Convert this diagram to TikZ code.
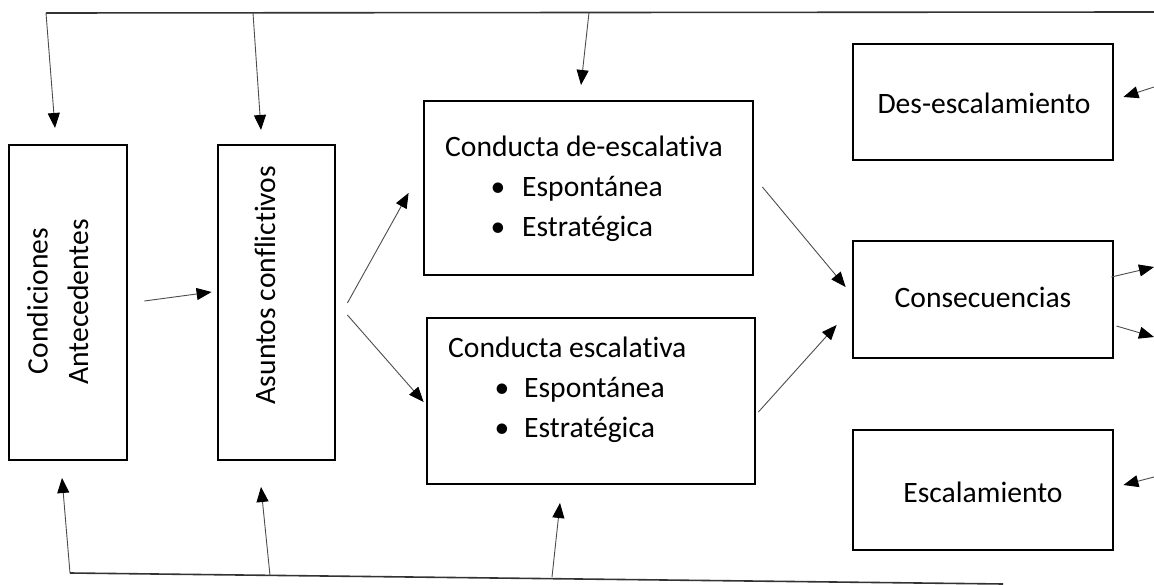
\documentclass[tikz,border=0pt]{standalone}
\usepackage{fontspec}
\setmainfont{Carlito}[Ligatures=NoCommon]
\usetikzlibrary{arrows.meta,calc}
\tikzset{
  box/.style={draw=black, line width=2.8pt, inner sep=0pt},
  lbl/.style={font=\fontsize{29.6}{40.6}\selectfont, inner sep=0pt},
  arr/.style={draw=black!70, line width=0.9pt, -{Triangle[length=15pt,width=12pt,color=black]}},
  feed/.style={draw=black!80, line width=1.6pt},
}
\begin{document}
\begin{tikzpicture}[x=1pt,y=-1pt]
\useasboundingbox (0,0) rectangle (1154,585);

% boxes
\node[box, minimum width=118, minimum height=315] (cond) at (68,302.5) {};
\node[box, minimum width=117, minimum height=315] (asun) at (276.5,302.5) {};
\node[box, minimum width=329, minimum height=174] (cde) at (588.5,188) {};
\node[box, minimum width=328, minimum height=166] (ces) at (591,401) {};
\node[box, minimum width=260, minimum height=116] (des) at (983,102) {};
\node[box, minimum width=260, minimum height=117] (cons) at (983,299.5) {};
\node[box, minimum width=260, minimum height=120] (esc) at (983,490) {};

% texts
\node[lbl, rotate=90, anchor=base] (t1) at (47.5,301) {Condiciones};
\node[lbl, rotate=90, anchor=base] (t2) at (88,302) {Antecedentes};
\node[lbl, rotate=90, anchor=base] (t3) at (275,285) {Asuntos conflictivos};

\node[lbl, anchor=base west] (t4) at (445,157) {Conducta de-escalativa};
\node[lbl, anchor=base] (b1) at (498,197) {\textbullet};
\node[lbl, anchor=base west] (t5) at (522,197) {Espontánea};
\node[lbl, anchor=base] (b2) at (498,237) {\textbullet};
\node[lbl, anchor=base west] (t6) at (522,237) {Estratégica};

\node[lbl, anchor=base west] (t7) at (448,357) {Conducta escalativa};
\node[lbl, anchor=base] (b3) at (502,397) {\textbullet};
\node[lbl, anchor=base west] (t8) at (524,397) {Espontánea};
\node[lbl, anchor=base] (b4) at (502,437) {\textbullet};
\node[lbl, anchor=base west] (t9) at (524,437) {Estratégica};

\node[lbl, anchor=base] (t10) at (984,114) {Des-escalamiento};
\node[lbl, anchor=base] (t11) at (983,308) {Consecuencias};
\node[lbl, anchor=base] (t12) at (983,502) {Escalamiento};

% feedback lines
\coordinate (topL) at (46,13);
\coordinate (topR) at (1154,12);
\coordinate (top2) at (253,13);
\coordinate (top3) at (589,12.5);
\draw[feed] (topL) -- (topR);
\coordinate (botL) at (70,573);
\coordinate (botR) at (1003,584);
\coordinate (bot2) at (270,575.5);
\coordinate (bot3) at (552,577);
\draw[feed] (botL) -- (botR);

% arrows from top line
\draw[arr] (topL) -- (55,128);
\draw[arr] (top2) -- (261,130);
\draw[arr] (top3) -- (581,85);
% arrows from bottom line
\draw[arr] (botL) -- (62,478);
\draw[arr] (bot2) -- (261,487);
\draw[arr] (bot3) -- (560,503);

% main flow
\draw[arr] ($(cond.east)+(16,-1.5)$) -- ($(asun.west)+(-5,-10.5)$);
\draw[arr] ($(asun.east)+(11,0.5)$) -- ($(cde.west)+(-14,5)$);
\draw[arr] ($(asun.east)+(11,12.5)$) -- ($(ces.west)+(-2,1)$);
\draw[arr] ($(cde.east)+(8,-1)$) -- ($(cons.west)+(-6,-12.5)$);
\draw[arr] ($(ces.east)+(2,11)$) -- ($(cons.west)+(-15,25.5)$);

% outputs of consecuencias
\coordinate (o1) at (1154,267);
\coordinate (o2) at (1154,337);
\draw[arr] ($(cons.east)+(-3,-22.5)$) -- (o1);
\draw[arr] ($(cons.east)+(2,26.5)$) -- (o2);

% inputs from right
\coordinate (i1) at (1154,87);
\coordinate (i2) at (1154,477);
\draw[arr] (i1) -- ($(des.east)+(9,-5)$);
\draw[arr] (i2) -- ($(esc.east)+(9,-5)$);
\end{tikzpicture}
\end{document}
